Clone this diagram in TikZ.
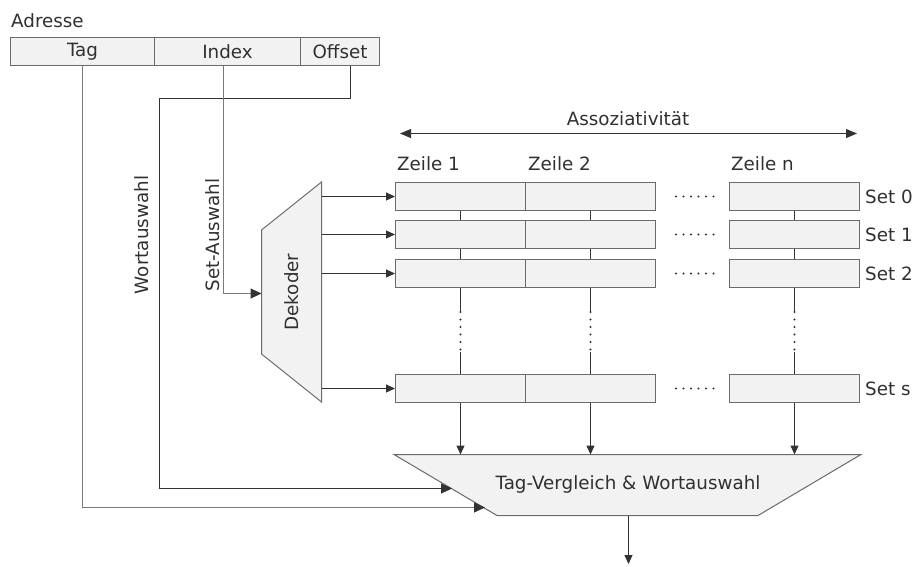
\documentclass[tikz,border=0pt]{standalone}
\usepackage{fontspec}
\setmainfont{DejaVu Sans}
\usetikzlibrary{arrows.meta}

\definecolor{wire}{HTML}{333333}
\definecolor{wirelight}{HTML}{7A7A7A}
\definecolor{boxline}{HTML}{6A6A6A}
\definecolor{boxfill}{HTML}{F2F2F2}
\definecolor{txt}{HTML}{303030}

\begin{document}
\begin{tikzpicture}[x=1pt,y=-1pt,
  font=\fontsize{18.3}{22}\selectfont, text=txt,
  cell/.style={draw=boxline, fill=boxfill, line width=1pt, inner sep=0pt,
    minimum height=28pt, minimum width=130pt},
  addrcell/.style={draw=boxline, fill=boxfill, line width=1pt, inner sep=0pt,
    minimum height=28pt},
  block/.style={draw=boxline, fill=boxfill, line width=1pt},
  wireline/.style={draw=wire, line width=1pt},
  arr/.style={wireline, -{Triangle[length=9pt,width=8pt,color=wire]}},
  bigarr/.style={wireline, -{Triangle[length=11pt,width=10pt,color=wire]}},
  dotline/.style={draw=wire, line width=2.2pt, line cap=round,
    dash pattern=on 0pt off 7.5pt},
  lbl/.style={inner sep=0pt}]

\useasboundingbox (0,0) rectangle (916,566);

% address word
\node[lbl, anchor=base west] (adr) at (11,27) {Adresse};
\node[addrcell, minimum width=144pt] (tagcell) at (82.5,51.5) {Tag};
\node[addrcell, minimum width=146pt] (indexcell) at (227.5,51.5) {Index};
\node[addrcell, minimum width=79pt] (offsetcell) at (340,51.5) {Offset};

% decoder
\draw[block] (261.5,230) coordinate (decTL) -- (321.5,182) coordinate (decTR)
  -- (321.5,402) coordinate (decBR) -- (261.5,354) coordinate (decBL) -- cycle;
\node[lbl, rotate=90] (dec) at (292,292) {Dekoder};

% cache lines: rows (sets) and columns (ways)
\foreach \r/\y in {0/196.5,1/234.5,2/273.5,s/388.5}{
  \node[cell] (r\r c1) at (460.5,\y) {};
  \node[cell] (r\r c2) at (590.5,\y) {};
  \node[cell] (r\r cn) at (794.5,\y) {};
  \node[lbl, anchor=west] (set\r) at (865,\y) {Set \r};
  \draw[dotline] ([xshift=20pt]r\r c2.east) -- ([xshift=-13pt]r\r cn.west);
  \draw[arr] (decTR |- r\r c1.west) -- (r\r c1.west);
}

% column labels
\node[lbl, anchor=base west] (z1) at (397,170) {Zeile 1};
\node[lbl, anchor=base west] (z2) at (528,170) {Zeile 2};
\node[lbl, anchor=base west] (zn) at (731,170) {Zeile n};

% associativity
\coordinate (assL) at (400,133.5);
\coordinate (assR) at (857,133.5);
\draw[wireline, {Triangle[length=11pt,width=9pt]}-{Triangle[length=11pt,width=9pt]}] (assL) -- (assR);
\node[lbl, anchor=base] (ass) at (628,125) {Assoziativität};

% vertical links between sets
\foreach \c in {c1,c2,cn}{
  \draw[wireline] (r0\c.south) -- (r1\c.north);
  \draw[wireline] (r1\c.south) -- (r2\c.north);
  \draw[wireline] (r2\c.south) -- ([yshift=-23pt]r2\c.south);
  \draw[dotline] ([yshift=-24pt]r2\c.south) -- ([yshift=-64pt]r2\c.south);
  \draw[wireline] ([yshift=22pt]rs\c.north) -- (rs\c.north);
}

% compare & word select unit
\draw[block] (394,454.5) coordinate (cmpTL) -- (861,454.5) coordinate (cmpTR)
  -- (758,515.5) coordinate (cmpBR) -- (497,515.5) coordinate (cmpBL) -- cycle;
\node[lbl] (cmp) at (628,484) {Tag-Vergleich \& Wortauswahl};
\foreach \c in {c1,c2,cn}{
  \draw[arr] (rs\c.south) -- (rs\c.south |- cmpTL);
}
\coordinate (outS) at (628.5,515.5);
\coordinate (out) at (628.5,564);
\draw[arr] (outS) -- (out);

% address fields to the units
\coordinate (cmpW) at (452,488.5);
\coordinate (cmpT) at (485,507.5);
\coordinate (offBend) at (159.5,98.5);
\draw[bigarr] ([xshift=10.5pt]offsetcell.south) |- (offBend) |- (cmpW);
\draw[bigarr, draw=wirelight] (tagcell.south) |- (cmpT);
\draw[bigarr, draw=wirelight] ([xshift=-4pt]indexcell.south) |- (decTL |- 0,293.5);

\node[lbl, rotate=90] (wsel) at (142,235) {Wortauswahl};
\node[lbl, rotate=90] (ssel) at (213,235) {Set-Auswahl};
\end{tikzpicture}
\end{document}
